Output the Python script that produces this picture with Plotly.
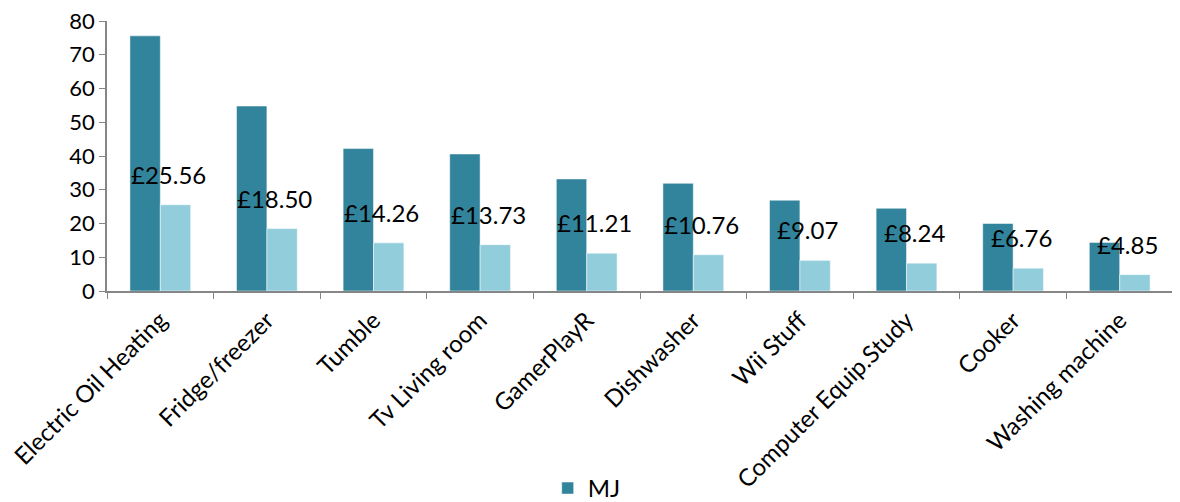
import plotly.graph_objects as go

appliances = ['Electric Oil Heating', 'Fridge/freezer', 'Tumble', 'Tv Living room', 'GamerPlayR',
              'Dishwasher', 'Wii Stuff', 'Computer Equip.Study', 'Cooker', 'Washing machine']
mj = [75.6, 54.8, 42.2, 40.6, 33.2, 31.9, 26.9, 24.5, 20.0, 14.4]
cost = [25.56, 18.50, 14.26, 13.73, 11.21, 10.76, 9.07, 8.24, 6.76, 4.85]

font = 'Lato, Open Sans, sans-serif'

fig = go.Figure()
fig.add_trace(go.Bar(x=appliances, y=mj, name='MJ', marker_color='#31849B',
                     marker_line=dict(color='#ffffff', width=0.5)))
fig.add_trace(go.Bar(x=appliances, y=cost, name='Cost', marker_color='#92CDDC',
                     marker_line=dict(color='#ffffff', width=0.5), showlegend=False))

# cost labels sit a bit above the light bars
for a, c in zip(appliances, cost):
    fig.add_annotation(x=a, y=c, text='£%.2f' % c, showarrow=False, xshift=8, yshift=14,
                       yanchor='bottom', yref='y', font=dict(size=24, color='#000000', family=font))

fig.update_layout(
    width=1180, height=502,
    margin=dict(l=99, r=15, t=13, b=219, autoexpand=False),
    plot_bgcolor='white', paper_bgcolor='white',
    barmode='group', bargap=0.43, bargroupgap=0,
    font=dict(family=font, size=24, color='#000000'),
    legend=dict(orientation='h', x=0.45, xanchor='center', y=-0.648, yanchor='top',
                font=dict(size=24)),
    showlegend=True,
)
fig.update_xaxes(tickangle=-45, showline=True, linecolor='#868686', linewidth=1.5,
                 ticks='outside', tickson='boundaries', ticklen=6, tickcolor='#868686',
                 tickfont=dict(size=24), automargin=False, ticklabelstandoff=4)
fig.update_yaxes(range=[0, 80], dtick=10, showgrid=False, zeroline=False, showline=True,
                 linecolor='#868686', linewidth=1.5, ticks='outside', ticklen=6,
                 tickcolor='#868686', tickfont=dict(size=22), automargin=False,
                 ticklabeloverflow='allow')

fig.write_html('out.html')
